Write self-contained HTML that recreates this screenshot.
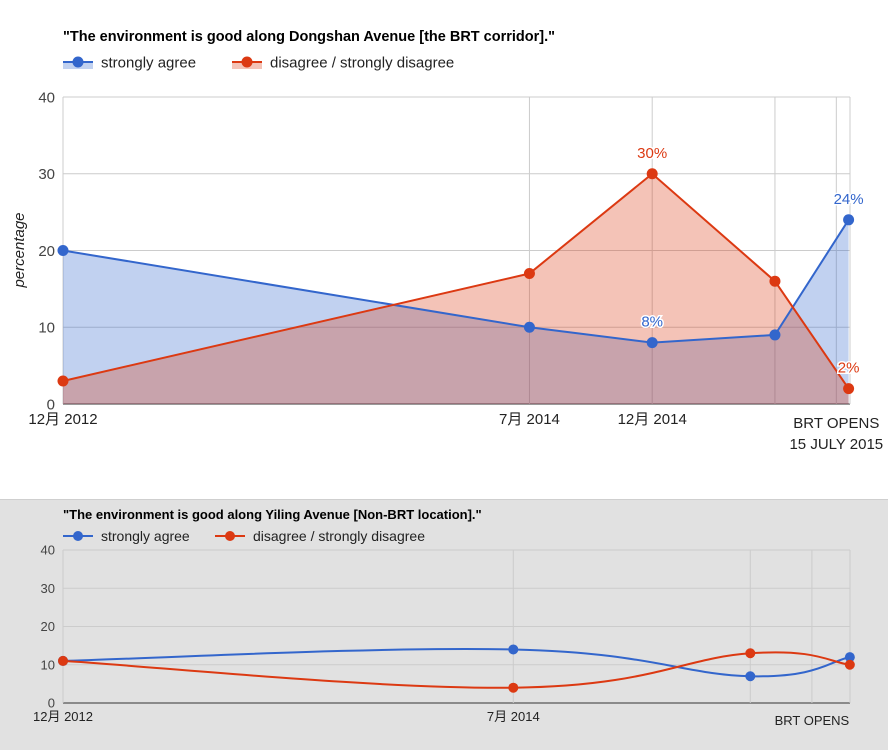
<!DOCTYPE html>
<html><head><meta charset="utf-8">
<style>
body{margin:0;width:888px;height:750px;overflow:hidden;background:#fff;font-family:"Liberation Sans","Noto Sans CJK SC",sans-serif;}
svg text{font-family:"Liberation Sans","Noto Sans CJK SC",sans-serif;}
</style></head>
<body>
<svg id="s" width="888" height="750">
<rect x="0" y="500" width="888" height="250" fill="#e1e1e1"/>
<rect x="0" y="499" width="888" height="1" fill="#cfcfcf"/>
</svg>
<script>
const monthsTop=[0,19,24,29,32];
const agreeTop=[20,10,8,9,24];
const disagreeTop=[3,17,30,16,2];
const agreeLabelsTop=[null,null,"8%",null,"24%"];
const disagreeLabelsTop=[null,null,"30%",null,"2%"];
const tickMonthsTop=[0,19,24];
const tickLabelsTop=["12月 2012","7月 2014","12月 2014"];
const monthsBot=[0,19,29,33.2];
const agreeBot=[11,14,7,12];
const disagreeBot=[11,4,13,10];
const tickMonthsBot=[0,19];
const tickLabelsBot=["12月 2012","7月 2014"];
const yTicks=[0,10,20,30,40];
const BLUE="#3366cc",RED="#dc3912";
const svg=document.getElementById('s');const NS="http://www.w3.org/2000/svg";
function el(t,a,p){const e=document.createElementNS(NS,t);for(const k in a)e.setAttribute(k,a[k]);(p||svg).appendChild(e);return e;}
function txt(x,y,s,a){const e=el('text',Object.assign({x:x,y:y},a));e.textContent=s;return e;}

function smooth(pts){let d="M"+pts[0][0]+","+pts[0][1];for(let i=0;i<pts.length-1;i++){const p0=pts[i-1]||pts[i],p1=pts[i],p2=pts[i+1],p3=pts[i+2]||p2;const t=0.2;
d+=" C"+(p1[0]+(p2[0]-p0[0])*t)+","+(p1[1]+(p2[1]-p0[1])*t)+" "+(p2[0]-(p3[0]-p1[0])*t)+","+(p2[1]-(p3[1]-p1[1])*t)+" "+p2[0]+","+p2[1];}return d;}

function chart(cfg){
 const X=m=>cfg.x0+m*cfg.pm, Y=v=>cfg.y0-v*(cfg.y0-cfg.y40)/40;
 const g=el('g',{});
 yTicks.forEach(v=>{const l=el('line',{x1:cfg.x0,x2:cfg.x1,y1:Y(v),y2:Y(v),stroke:v?"#cccccc":"#333",'stroke-width':1},g);
  const t=txt(cfg.x0-8,Y(v)+cfg.fs*0.35,String(v),{'text-anchor':'end','font-size':cfg.fs,fill:"#444"});g.appendChild(t);});
 el('line',{x1:cfg.x0,x2:cfg.x0,y1:cfg.y40,y2:cfg.y0,stroke:"#ccc"},g);
 el('line',{x1:cfg.x1,x2:cfg.x1,y1:cfg.y40,y2:cfg.y0,stroke:"#ccc"},g);
 cfg.vlines.forEach(m=>{const l=el('line',{x1:X(m),x2:X(m),y1:cfg.y40,y2:cfg.y0,stroke:"#ccc"},g);});
 cfg.ticks.forEach((m,i)=>{const t=txt(X(m),cfg.y0+cfg.fs+5,cfg.tickLabels[i],{'text-anchor':'middle','font-size':cfg.fs,fill:"#222"});g.appendChild(t);});
 const series=[[cfg.agree,BLUE,'agree'],[cfg.disagree,RED,'disagree']];
 series.forEach(([vals,c,n])=>{const pts=vals.map((v,i)=>[X(cfg.months[i]),Y(v)]);
  if(cfg.area){const a=el('path',{d:"M"+pts.map(p=>p.join(",")).join(" L")+" L"+pts[pts.length-1][0]+","+Y(0)+" L"+pts[0][0]+","+Y(0)+"Z",fill:c,'fill-opacity':0.3},g);}
 });
 series.forEach(([vals,c,n])=>{const pts=vals.map((v,i)=>[X(cfg.months[i]),Y(v)]);
  const d=cfg.area?"M"+pts.map(p=>p.join(",")).join(" L"):smooth(pts);
  const l=el('path',{d:d,fill:"none",stroke:c,'stroke-width':2},g);
  pts.forEach(p=>{const ci=el('circle',{cx:p[0],cy:p[1],r:cfg.r,fill:c},g);});});
 if(cfg.labelsA){[[cfg.agree,cfg.labelsA,BLUE],[cfg.disagree,cfg.labelsD,RED]].forEach(([vals,lab,c])=>{vals.forEach((v,i)=>{if(!lab[i])return;const t=txt(X(cfg.months[i]),Y(v)-16,lab[i],{'text-anchor':'middle','font-size':15,fill:c,stroke:'#fff','stroke-width':3,'paint-order':'stroke'});g.appendChild(t);});});}
 const tt=txt(63,cfg.titleY,cfg.title,{'font-size':cfg.tfs,'font-weight':'bold',fill:"#000"});g.appendChild(tt);
 [["strongly agree",BLUE,63],["disagree / strongly disagree",RED,cfg.leg2]].forEach(([s,c,x])=>{
  if(cfg.area)el('rect',{x:x,y:cfg.legY,width:30,height:7,fill:c,'fill-opacity':0.3},g);
  el('line',{x1:x,x2:x+30,y1:cfg.legY,y2:cfg.legY,stroke:c,'stroke-width':2},g);
  const ci=el('circle',{cx:x+15,cy:cfg.legY,r:cfg.r,fill:c},g);
  const t=txt(x+38,cfg.legY+cfg.lfs*0.35,s,{'font-size':cfg.lfs,fill:"#222"});g.appendChild(t);});
 return X;
}
const Xt=chart({name:'top-chart',x0:63,x1:850,pm:24.55,y0:404,y40:97,fs:15,r:5.5,area:true,months:monthsTop,agree:agreeTop,disagree:disagreeTop,labelsA:agreeLabelsTop,labelsD:disagreeLabelsTop,ticks:tickMonthsTop,tickLabels:tickLabelsTop,vlines:[19,24,29,31.5],title:'"The environment is good along Dongshan Avenue [the BRT corridor]."',titleY:41,tfs:14.5,legY:62,lfs:15,leg2:232});
let t1=txt(Xt(31.5),428,"BRT OPENS",{'text-anchor':'middle','font-size':15,fill:"#222"});
let t2=txt(Xt(31.5),449,"15 JULY 2015",{'text-anchor':'middle','font-size':15,fill:"#222"});
let yt=txt(0,0,"percentage",{'font-size':15,'font-style':'italic',fill:"#222",'text-anchor':'middle',transform:'translate(24,250) rotate(-90)'});
const Xb=chart({name:'bottom-chart',x0:63,x1:850,pm:23.7,y0:703,y40:550,fs:13,r:5,area:false,months:monthsBot,agree:agreeBot,disagree:disagreeBot,ticks:tickMonthsBot,tickLabels:tickLabelsBot,vlines:[19,29,31.6],title:'"The environment is good along Yiling Avenue [Non-BRT location]."',titleY:519,tfs:13,legY:536,lfs:14,leg2:215});
let t3=txt(Xb(31.6),725,"BRT OPENS",{'text-anchor':'middle','font-size':13,fill:"#222"});
</script>
</body></html>
